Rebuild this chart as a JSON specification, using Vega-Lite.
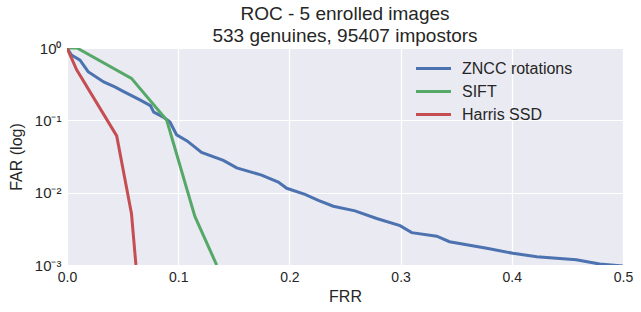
{
  "$schema": "https://vega.github.io/schema/vega-lite/v6.json",
  "width": 556,
  "height": 217,
  "autosize": {"type": "none"},
  "padding": {"left": 67, "top": 48, "right": 18, "bottom": 47},
  "background": "white",
  "config": {
    "view": {"fill": "#EAEAF2", "stroke": null},
    "font": "Liberation Sans",
    "axis": {"domain": false, "ticks": false, "gridColor": "white", "gridWidth": 1.2, "labelColor": "#262626", "titleColor": "#262626", "labelFontSize": 14, "titleFontSize": 16, "titleFontWeight": "normal", "labelFont": "Liberation Sans", "titleFont": "Liberation Sans"},
    "legend": {"labelFont": "Liberation Sans"}
  },
  "title": {
    "text": ["ROC - 5 enrolled images", "533 genuines, 95407 impostors"],
    "fontSize": 19,
    "fontWeight": "normal",
    "color": "#262626",
    "lineHeight": 22,
    "offset": -5,
    "anchor": "middle"
  },
  "data": {
    "values": [
      {"method": "ZNCC rotations", "frr": 0.0, "far": 1.0},
      {"method": "ZNCC rotations", "frr": 0.004, "far": 0.8},
      {"method": "ZNCC rotations", "frr": 0.0117, "far": 0.68},
      {"method": "ZNCC rotations", "frr": 0.019, "far": 0.47},
      {"method": "ZNCC rotations", "frr": 0.033, "far": 0.34},
      {"method": "ZNCC rotations", "frr": 0.043, "far": 0.29},
      {"method": "ZNCC rotations", "frr": 0.051, "far": 0.25},
      {"method": "ZNCC rotations", "frr": 0.066, "far": 0.19},
      {"method": "ZNCC rotations", "frr": 0.075, "far": 0.16},
      {"method": "ZNCC rotations", "frr": 0.078, "far": 0.13},
      {"method": "ZNCC rotations", "frr": 0.087, "far": 0.11},
      {"method": "ZNCC rotations", "frr": 0.0926, "far": 0.095},
      {"method": "ZNCC rotations", "frr": 0.0986, "far": 0.063},
      {"method": "ZNCC rotations", "frr": 0.108, "far": 0.052},
      {"method": "ZNCC rotations", "frr": 0.121, "far": 0.036},
      {"method": "ZNCC rotations", "frr": 0.1406, "far": 0.028},
      {"method": "ZNCC rotations", "frr": 0.1526, "far": 0.022},
      {"method": "ZNCC rotations", "frr": 0.175, "far": 0.0175},
      {"method": "ZNCC rotations", "frr": 0.19, "far": 0.014},
      {"method": "ZNCC rotations", "frr": 0.1976, "far": 0.0115},
      {"method": "ZNCC rotations", "frr": 0.214, "far": 0.0095},
      {"method": "ZNCC rotations", "frr": 0.226, "far": 0.0078},
      {"method": "ZNCC rotations", "frr": 0.2395, "far": 0.0065},
      {"method": "ZNCC rotations", "frr": 0.259, "far": 0.0056},
      {"method": "ZNCC rotations", "frr": 0.2785, "far": 0.0044},
      {"method": "ZNCC rotations", "frr": 0.2995, "far": 0.0035},
      {"method": "ZNCC rotations", "frr": 0.31, "far": 0.0028},
      {"method": "ZNCC rotations", "frr": 0.3325, "far": 0.0025},
      {"method": "ZNCC rotations", "frr": 0.344, "far": 0.0021},
      {"method": "ZNCC rotations", "frr": 0.3775, "far": 0.0017},
      {"method": "ZNCC rotations", "frr": 0.401, "far": 0.00145},
      {"method": "ZNCC rotations", "frr": 0.4225, "far": 0.0013},
      {"method": "ZNCC rotations", "frr": 0.458, "far": 0.00118},
      {"method": "ZNCC rotations", "frr": 0.479, "far": 0.00103},
      {"method": "ZNCC rotations", "frr": 0.5, "far": 0.00097},
      {"method": "SIFT", "frr": 0.0, "far": 1.0},
      {"method": "SIFT", "frr": 0.009, "far": 1.0},
      {"method": "SIFT", "frr": 0.058, "far": 0.38},
      {"method": "SIFT", "frr": 0.0897, "far": 0.1},
      {"method": "SIFT", "frr": 0.115, "far": 0.0047},
      {"method": "SIFT", "frr": 0.1346, "far": 0.001},
      {"method": "Harris SSD", "frr": 0.0, "far": 1.0},
      {"method": "Harris SSD", "frr": 0.0087, "far": 0.5},
      {"method": "Harris SSD", "frr": 0.0447, "far": 0.061},
      {"method": "Harris SSD", "frr": 0.058, "far": 0.0051},
      {"method": "Harris SSD", "frr": 0.062, "far": 0.001}
    ]
  },
  "mark": {"type": "line", "strokeWidth": 3, "clip": true},
  "encoding": {
    "x": {
      "field": "frr", "type": "quantitative", "title": "FRR",
      "scale": {"domain": [0, 0.5], "nice": false, "zero": false},
      "axis": {"values": [0, 0.1, 0.2, 0.3, 0.4, 0.5], "format": ".1f", "labelPadding": 5, "titlePadding": 4, "labelFlush": false}
    },
    "y": {
      "field": "far", "type": "quantitative", "title": "FAR (log)",
      "scale": {"type": "log", "domain": [0.001, 1], "nice": false},
      "axis": {"values": [1, 0.1, 0.01, 0.001], "labelExpr": "datum.value >= 0.5 ? '10⁰' : datum.value >= 0.05 ? '10⁻¹' : datum.value >= 0.005 ? '10⁻²' : '10⁻³'", "labelPadding": 6, "titlePadding": 10, "labelFlush": false, "labelFontSize": 15}
    },
    "color": {
      "field": "method", "type": "nominal",
      "scale": {"domain": ["ZNCC rotations", "SIFT", "Harris SSD"], "range": ["#4C72B0", "#55A868", "#C44E52"]},
      "legend": {
        "title": null, "orient": "none", "legendX": 355, "legendY": 9,
        "symbolType": "M-1.75,0H1.75", "symbolSize": 400, "symbolStrokeWidth": 3, "symbolFillColor": "transparent",
        "labelFontSize": 16, "labelColor": "#262626", "labelOffset": 17,
        "rowPadding": 3
      }
    }
  }
}
